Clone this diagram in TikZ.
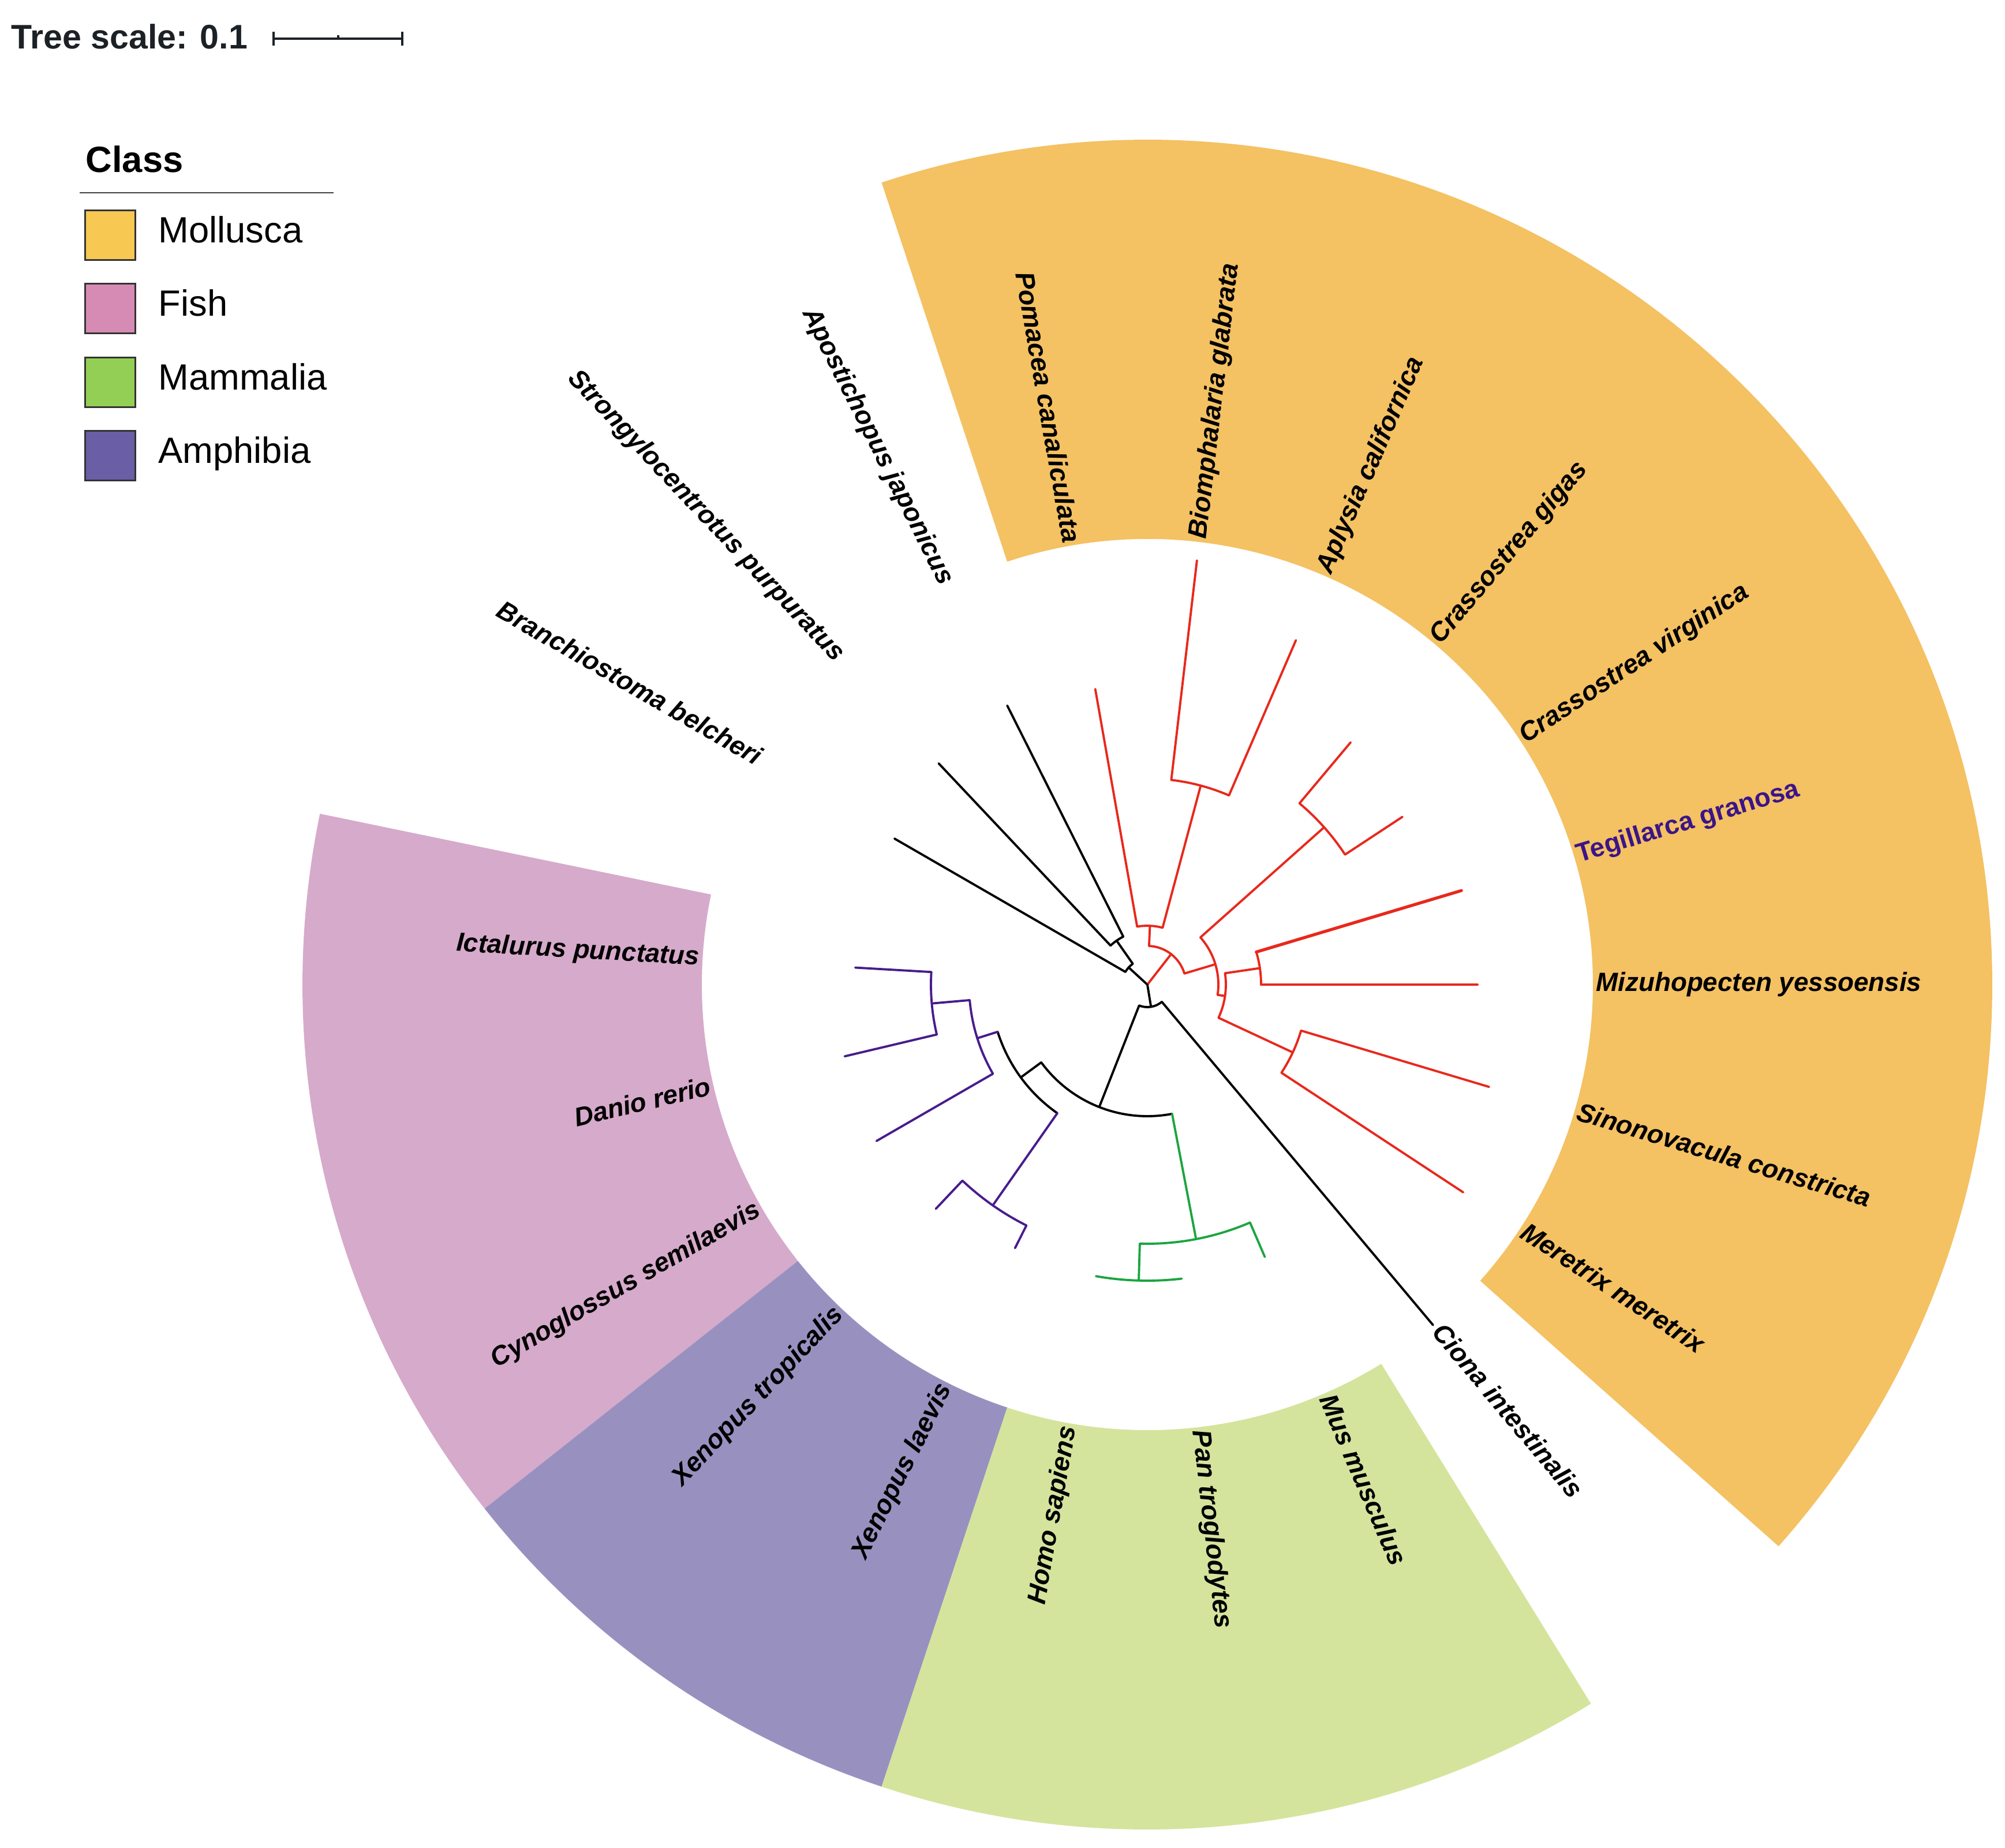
\documentclass[tikz,border=0pt]{standalone}
\usepackage{fontspec}
\setmainfont{Liberation Sans}
\usetikzlibrary{calc}
\definecolor{molsec}{HTML}{F4C163}
\definecolor{fishsec}{HTML}{D6AACB}
\definecolor{amphsec}{HTML}{9891C0}
\definecolor{mamsec}{HTML}{D4E49D}
\definecolor{molleg}{HTML}{F7C852}
\definecolor{fishleg}{HTML}{D68BB4}
\definecolor{mamleg}{HTML}{93CF55}
\definecolor{amphleg}{HTML}{6A5EA6}
\definecolor{molbr}{HTML}{E8281C}
\definecolor{vertbr}{HTML}{481C8C}
\definecolor{mambr}{HTML}{1BA540}
\definecolor{teglab}{HTML}{3B1588}
\definecolor{scaletxt}{HTML}{1C2126}
\begin{document}
\begin{tikzpicture}[
  br/.style={line width=1.1pt, line cap=round, line join=round},
  blk/.style={br, draw=black},
  mol/.style={br, draw=molbr},
  vrt/.style={br, draw=vertbr},
  mam/.style={br, draw=mambr},
  lab/.style={font=\fontsize{13}{15}\selectfont\bfseries\itshape, inner sep=0pt, text height=0.66em, text depth=0pt},
  labR/.style={lab, anchor=west},
  labL/.style={lab, anchor=east},
  legbox/.style={draw=black!80, line width=0.8pt, minimum width=0.87cm, minimum height=0.86cm, inner sep=0pt, anchor=west},
  legtxt/.style={font=\fontsize{18}{21}\selectfont, anchor=west, inner sep=0pt, text height=0.72em, text depth=0pt},
]
\useasboundingbox (0,0) rectangle (34.74,-32.02);

% ---------------- scale and legend ----------------
\node[anchor=base west, font=\fontsize{16.8}{19}\selectfont\bfseries, text=scaletxt, inner sep=0pt] (scaletext) at (0.19,-0.85) {Tree scale: 0.1};
\coordinate (sbL) at (4.74,-0.67);
\coordinate (sbM) at (5.86,-0.67);
\coordinate (sbR) at (6.97,-0.67);
\draw[line width=1pt, scaletxt] (sbL) -- (sbR);
\draw[line width=1pt, scaletxt] ($(sbL)+(0,0.12)$) -- ($(sbL)+(0,-0.12)$);
\draw[line width=1pt, scaletxt] ($(sbR)+(0,0.12)$) -- ($(sbR)+(0,-0.12)$);
\draw[line width=1pt, scaletxt] ($(sbM)+(0,0.06)$) -- (sbM);

\node[anchor=base west, font=\fontsize{18}{21}\selectfont\bfseries, inner sep=0pt] (classtitle) at (1.48,-2.985) {Class};
\draw[line width=0.7pt, black!75] (1.38,-3.34) -- (5.78,-3.34);
\node[legbox, fill=molleg] (boxMol) at (1.46,-4.075) {};
\node[legtxt] (txtMol) at (2.74,-4.075) {Mollusca};
\node[legbox, fill=fishleg] (boxFish) at (1.46,-5.345) {};
\node[legtxt] (txtFish) at (2.74,-5.345) {Fish};
\node[legbox, fill=mamleg] (boxMam) at (1.46,-6.625) {};
\node[legtxt] (txtMam) at (2.74,-6.625) {Mammalia};
\node[legbox, fill=amphleg] (boxAmph) at (1.46,-7.897) {};
\node[legtxt] (txtAmph) at (2.74,-7.897) {Amphibia};

% ---------------- circular tree ----------------
\begin{scope}[shift={(19.88,-17.06)}]
% sectors
\fill[molsec] (-41.667:7.72) -- (-41.667:14.64) arc[start angle=-41.667, end angle=108.333, radius=14.64cm] -- (108.333:7.72) arc[start angle=108.333, end angle=-41.667, radius=7.72cm] -- cycle;
\fill[fishsec] (168.333:7.72) -- (168.333:14.64) arc[start angle=168.333, end angle=218.333, radius=14.64cm] -- (218.333:7.72) arc[start angle=218.333, end angle=168.333, radius=7.72cm] -- cycle;
\fill[amphsec] (218.333:7.72) -- (218.333:14.64) arc[start angle=218.333, end angle=251.667, radius=14.64cm] -- (251.667:7.72) arc[start angle=251.667, end angle=218.333, radius=7.72cm] -- cycle;
\fill[mamsec] (251.667:7.72) -- (251.667:14.64) arc[start angle=251.667, end angle=301.667, radius=14.64cm] -- (301.667:7.72) arc[start angle=301.667, end angle=251.667, radius=7.72cm] -- cycle;

% internal nodes
\coordinate (root) at (0,0);
\coordinate (B1) at (137.5:0.44);
\coordinate (B2) at (125:0.93);
\coordinate (M1) at (52.08:0.67);
\coordinate (M2) at (87.5:1.02);
\coordinate (M2b) at (75:3.57);
\coordinate (M3) at (16.667:1.23);
\coordinate (M4) at (41.667:4.10);
\coordinate (M5) at (-8.333:1.36);
\coordinate (M6) at (8.333:1.97);
\coordinate (M8) at (-25:2.78);
\coordinate (NL) at (279.27:0.39);
\coordinate (V1) at (248.54:2.28);
\coordinate (V2) at (216.25:2.72);
\coordinate (F1) at (197.5:3.09);
\coordinate (F2) at (185:3.75);
\coordinate (A1) at (235:4.67);
\coordinate (Ma1) at (280.83:4.49);
\coordinate (Ma2) at (268.33:5.13);

% leaf tips
\coordinate (tMizu) at (0:5.72);
\coordinate (tTeg) at (16.667:5.68);
\coordinate (tCvir) at (33.333:5.29);
\coordinate (tCgig) at (50:5.48);
\coordinate (tAply) at (66.667:6.50);
\coordinate (tBiom) at (83.333:7.40);
\coordinate (tPom) at (100:5.20);
\coordinate (tApo) at (116.667:5.41);
\coordinate (tStr) at (133.333:5.27);
\coordinate (tBra) at (150:5.06);
\coordinate (tIct) at (176.667:5.07);
\coordinate (tDan) at (193.333:5.39);
\coordinate (tCyn) at (210:5.42);
\coordinate (tXtr) at (226.667:5.34);
\coordinate (tXla) at (243.333:5.11);
\coordinate (tHom) at (260:5.13);
\coordinate (tPan) at (276.667:5.13);
\coordinate (tMus) at (293.333:5.14);
\coordinate (tCio) at (310:7.70);
\coordinate (tMer) at (326.667:6.55);
\coordinate (tSin) at (343.333:6.18);

% root children
\draw[blk] (root) -- (B1);
\draw[mol] (root) -- (M1);
\draw[blk] (root) -- (NL);

% B1 clade (black)
\draw[blk] ($(root)!0.44cm!(B2)$) arc[start angle=125, end angle=150, radius=0.44cm];
\draw[blk] ($(root)!0.44cm!(B2)$) -- (B2);
\draw[blk] ($(root)!0.44cm!(tBra)$) -- (tBra);
\draw[blk] ($(root)!0.93cm!(tApo)$) arc[start angle=116.667, end angle=133.333, radius=0.93cm];
\draw[blk] ($(root)!0.93cm!(tApo)$) -- (tApo);
\draw[blk] ($(root)!0.93cm!(tStr)$) -- (tStr);

% Mollusca clade (red)
\draw[mol] ($(root)!0.67cm!(M3)$) arc[start angle=16.667, end angle=87.5, radius=0.67cm];
\draw[mol] ($(root)!0.67cm!(M2)$) -- (M2);
\draw[mol] ($(root)!0.67cm!(M3)$) -- (M3);
\draw[mol] ($(root)!1.02cm!(M2b)$) arc[start angle=75, end angle=100, radius=1.02cm];
\draw[mol] ($(root)!1.02cm!(M2b)$) -- (M2b);
\draw[mol] ($(root)!1.02cm!(tPom)$) -- (tPom);
\draw[mol] ($(root)!3.57cm!(tAply)$) arc[start angle=66.667, end angle=83.333, radius=3.57cm];
\draw[mol] ($(root)!3.57cm!(tAply)$) -- (tAply);
\draw[mol] ($(root)!3.57cm!(tBiom)$) -- (tBiom);
\draw[mol] ($(root)!1.23cm!(M5)$) arc[start angle=-8.333, end angle=41.667, radius=1.23cm];
\draw[mol] ($(root)!1.23cm!(M4)$) -- (M4);
\draw[mol] ($(root)!1.23cm!(M5)$) -- (M5);
\draw[mol] ($(root)!4.10cm!(tCvir)$) arc[start angle=33.333, end angle=50, radius=4.10cm];
\draw[mol] ($(root)!4.10cm!(tCvir)$) -- (tCvir);
\draw[mol] ($(root)!4.10cm!(tCgig)$) -- (tCgig);
\draw[mol] ($(root)!1.36cm!(M8)$) arc[start angle=-25, end angle=8.333, radius=1.36cm];
\draw[mol] ($(root)!1.36cm!(M6)$) -- (M6);
\draw[mol] ($(root)!1.36cm!(M8)$) -- (M8);
\draw[mol] ($(root)!1.97cm!(tMizu)$) arc[start angle=0, end angle=16.667, radius=1.97cm];
\draw[mol] ($(root)!1.97cm!(tMizu)$) -- (tMizu);
\draw[mol, line width=1.5pt] ($(root)!1.97cm!(tTeg)$) -- (tTeg);
\draw[mol] ($(root)!2.78cm!(tMer)$) arc[start angle=-33.333, end angle=-16.667, radius=2.78cm];
\draw[mol] ($(root)!2.78cm!(tMer)$) -- (tMer);
\draw[mol] ($(root)!2.78cm!(tSin)$) -- (tSin);

% lower clade
\draw[blk] ($(root)!0.39cm!(V1)$) arc[start angle=248.54, end angle=310, radius=0.39cm];
\draw[blk] ($(root)!0.39cm!(V1)$) -- (V1);
\draw[blk] ($(root)!0.39cm!(tCio)$) -- (tCio);
\draw[blk] ($(root)!2.28cm!(V2)$) arc[start angle=216.25, end angle=280.83, radius=2.28cm];
\draw[blk] ($(root)!2.28cm!(V2)$) -- (V2);
\draw[mam] ($(root)!2.28cm!(Ma1)$) -- (Ma1);
\draw[blk] ($(root)!2.72cm!(F1)$) arc[start angle=197.5, end angle=235, radius=2.72cm];
\draw[vrt] ($(root)!2.72cm!(F1)$) -- (F1);
\draw[vrt] ($(root)!2.72cm!(A1)$) -- (A1);
% fish
\draw[vrt] ($(root)!3.09cm!(F2)$) arc[start angle=185, end angle=210, radius=3.09cm];
\draw[vrt] ($(root)!3.09cm!(F2)$) -- (F2);
\draw[vrt] ($(root)!3.09cm!(tCyn)$) -- (tCyn);
\draw[vrt] ($(root)!3.75cm!(tIct)$) arc[start angle=176.667, end angle=193.333, radius=3.75cm];
\draw[vrt] ($(root)!3.75cm!(tIct)$) -- (tIct);
\draw[vrt] ($(root)!3.75cm!(tDan)$) -- (tDan);
% amphibia
\draw[vrt] ($(root)!4.67cm!(tXtr)$) arc[start angle=226.667, end angle=243.333, radius=4.67cm];
\draw[vrt] ($(root)!4.67cm!(tXtr)$) -- (tXtr);
\draw[vrt] ($(root)!4.67cm!(tXla)$) -- (tXla);
% mammals
\draw[mam] ($(root)!4.49cm!(Ma2)$) arc[start angle=268.33, end angle=293.333, radius=4.49cm];
\draw[mam] ($(root)!4.49cm!(Ma2)$) -- (Ma2);
\draw[mam] ($(root)!4.49cm!(tMus)$) -- (tMus);
\draw[mam] (tHom) arc[start angle=260, end angle=276.667, radius=5.13cm];

% labels
\node[labR, rotate=0] (lMizu) at (0:7.77) {Mizuhopecten yessoensis};
\node[labR, rotate=16.667, text=teglab, font=\fontsize{13}{15}\selectfont\bfseries] (lTeg) at (16.667:7.77) {Tegillarca granosa};
\node[labR, rotate=33.333] (lCvir) at (33.333:7.77) {Crassostrea virginica};
\node[labR, rotate=50] (lCgig) at (50:7.77) {Crassostrea gigas};
\node[labR, rotate=66.667] (lAply) at (66.667:7.77) {Aplysia californica};
\node[labR, rotate=83.333] (lBiom) at (83.333:7.77) {Biomphalaria glabrata};
\node[labL, rotate=-80] (lPom) at (100:7.77) {Pomacea canaliculata};
\node[labL, rotate=-63.333] (lApo) at (116.667:7.77) {Apostichopus japonicus};
\node[labL, rotate=-46.667] (lStr) at (133.333:7.77) {Strongylocentrotus purpuratus};
\node[labL, rotate=-30] (lBra) at (150:7.77) {Branchiostoma belcheri};
\node[labL, rotate=-3.333] (lIct) at (176.667:7.77) {Ictalurus punctatus};
\node[labL, rotate=13.333] (lDan) at (193.333:7.77) {Danio rerio};
\node[labL, rotate=30] (lCyn) at (210:7.77) {Cynoglossus semilaevis};
\node[labL, rotate=46.667] (lXtr) at (226.667:7.77) {Xenopus tropicalis};
\node[labL, rotate=63.333] (lXla) at (243.333:7.77) {Xenopus laevis};
\node[labL, rotate=80] (lHom) at (260:7.77) {Homo sapiens};
\node[labR, rotate=276.667] (lPan) at (276.667:7.77) {Pan troglodytes};
\node[labR, rotate=293.333] (lMus) at (293.333:7.77) {Mus musculus};
\node[labR, rotate=310] (lCio) at (310:7.77) {Ciona intestinalis};
\node[labR, rotate=326.667] (lMer) at (326.667:7.77) {Meretrix meretrix};
\node[labR, rotate=343.333] (lSin) at (343.333:7.77) {Sinonovacula constricta};
\end{scope}
\end{tikzpicture}
\end{document}
